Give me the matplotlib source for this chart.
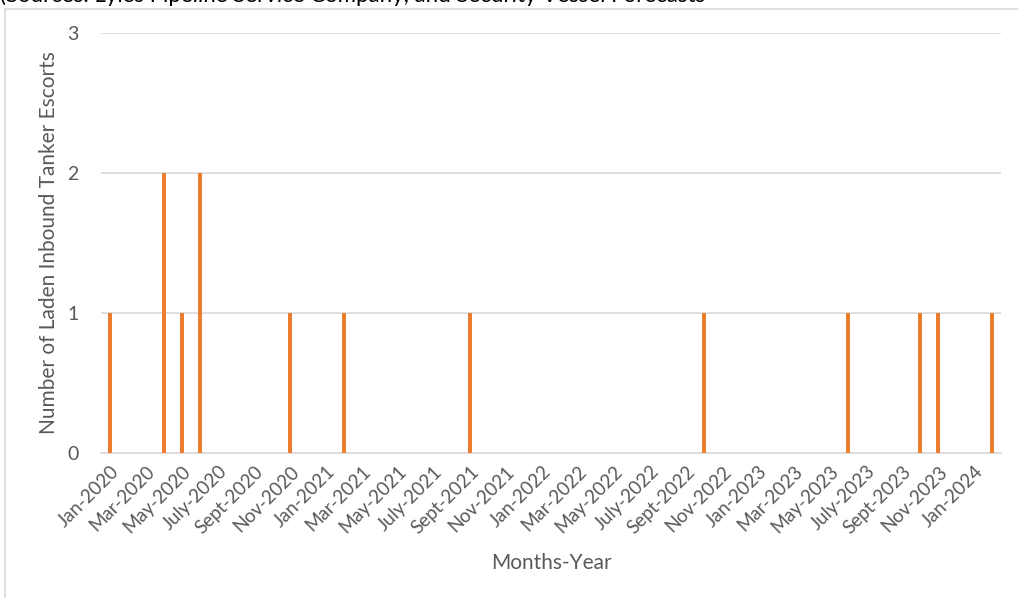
import numpy as np
import matplotlib
matplotlib.use("Agg")
import matplotlib.pyplot as plt
from matplotlib.patches import Rectangle

plt.rcParams['font.family'] = ['Lato', 'DejaVu Sans']

# months Jan-2020 .. Feb-2024
month_names = ["Jan", "Feb", "Mar", "Apr", "May", "June",
               "July", "Aug", "Sept", "Oct", "Nov", "Dec"]
years = [2020, 2021, 2022, 2023, 2024]
months = [m + "-" + str(y) for y in years for m in month_names][:50]

# escorts per month (only non-zero months listed)
escort_months = ["Jan-2020", "Apr-2020", "May-2020", "June-2020", "Nov-2020",
                 "Feb-2021", "Sept-2021", "Oct-2022", "June-2023", "Oct-2023",
                 "Nov-2023", "Feb-2024"]
escort_counts = [1, 2, 1, 2, 1, 1, 1, 1, 1, 1, 1, 1]

counts = np.zeros(len(months))
for m, c in zip(escort_months, escort_counts):
    counts[months.index(m)] = c

grey = "#595959"
fig = plt.figure(figsize=(10.18, 5.98), dpi=100)

# chart frame
fig.patches.append(Rectangle((5/1018, -0.1), 1.2, (598-9)/598 + 0.1, transform=fig.transFigure,
                             fill=False, edgecolor="#d9d9d9", linewidth=1.2))
# clipped caption on top
fig.text(0.0, 1.0 + 4/598, "(Sources: Lyles Pipeline Service Company, and Security Vessel Forecasts",
         fontsize=16, color="black", va="center", ha="left")

ax = fig.add_axes([101/1018, 145/598, 900/1018, 420/598])
x = np.arange(len(months))
ax.bar(x, counts, width=0.27, color="#ED7D31", zorder=3)
ax.set_xlim(-0.5, len(months) - 0.5)
ax.set_ylim(0, 3)
ax.set_yticks([0, 1, 2, 3])
ax.yaxis.grid(True, color="#d9d9d9", linewidth=1.2, zorder=0)
for s in ["top", "right", "left"]:
    ax.spines[s].set_visible(False)
ax.spines["bottom"].set_color("#d9d9d9")
ax.spines["bottom"].set_linewidth(1.2)
ax.tick_params(axis="both", length=0, colors=grey)
ax.tick_params(axis="y", pad=16, labelsize=14)

ax.set_xticks(x[::2])
ax.set_xticklabels(months[::2], rotation=45, ha="right", rotation_mode="anchor")
ax.tick_params(axis="x", pad=7, labelsize=13.5)

ax.set_ylabel("Number of Laden Inbound Tanker Escorts", fontsize=15, color=grey, labelpad=6)
ax.set_xlabel("Months-Year", fontsize=15, color=grey, labelpad=12)

fig.savefig("out.png", dpi=100)
